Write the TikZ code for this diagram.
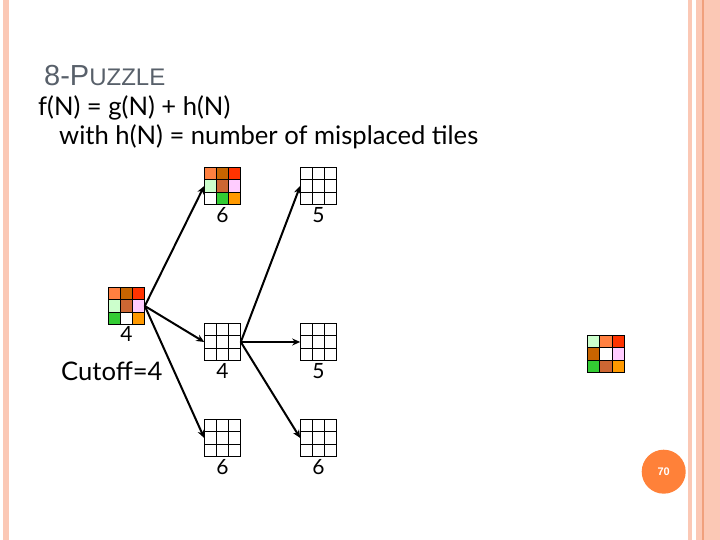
\documentclass[tikz,border=0pt]{standalone}
\usepackage{fontspec}
\setmainfont{Lato}
\newfontfamily\titlefont{Liberation Sans}
\usetikzlibrary{positioning,arrows.meta,calc}
\definecolor{pzstripe}{RGB}{251,200,181}
\definecolor{pzstripedark}{RGB}{240,160,125}
\definecolor{pzbadge}{RGB}{255,129,57}
\definecolor{pztitle}{RGB}{88,96,106}
\definecolor{pzorange}{RGB}{255,128,64}
\definecolor{pzbrown}{RGB}{200,100,0}
\definecolor{pzred}{RGB}{255,51,0}
\definecolor{pzmint}{RGB}{204,255,204}
\definecolor{pzrust}{RGB}{204,102,51}
\definecolor{pzpink}{RGB}{255,204,255}
\definecolor{pzgreen}{RGB}{51,204,51}
\definecolor{pzamber}{RGB}{255,153,0}
\tikzset{
  pzgrid/.style={draw=black, line width=0.9pt, minimum size=36.6pt, inner sep=0pt, outer sep=0pt},
  pzcell/.style={draw=black, line width=0.9pt},
  pzarr/.style={-{Stealth[length=8pt,width=7pt]}, line width=2pt, draw=black},
  pzcost/.style={font=\fontsize{21}{21}\selectfont, inner sep=0pt, text height=14.5pt, text depth=0pt},
  pztext/.style={font=\fontsize{25.6}{25.6}\selectfont, inner sep=0pt, anchor=base west},
  pzband/.style={fill=pzstripe, draw=none},
}
\newcommand{\pzcells}[2]{%
  \foreach \c [count=\i from 0] in {#2} {
    \pgfmathtruncatemacro{\cx}{mod(\i,3)}
    \pgfmathtruncatemacro{\cy}{int(\i/3)}
    \draw[pzcell, fill=\c] ($(#1.north west)+(\cx*12.2,-\cy*12.2)$) rectangle ++(12.2,-12.2);
  }
}
\begin{document}
\begin{tikzpicture}[x=1pt,y=1pt]
    \useasboundingbox (0,0) rectangle (720,540);
    % side bands
    \fill[pzband] (3,0) rectangle (9,540);
    \fill[pzband] (688,0) rectangle (692,540);
    \fill[pzband] (696,0) rectangle (720,540);
    \fill[pzstripedark] (702.4,0) rectangle (703.6,540);

    \node[pztext, text=pztitle] (title) at (44,454) {\titlefont\fontsize{29}{29}\selectfont 8-P\fontsize{24}{24}\selectfont UZZLE};
    \node[pztext] (formula) at (38,424) {f(N) = g(N) + h(N)};
    \node[pztext] (with) at (59,395) {with h(N) = number of misplaced tiles};

    % puzzle states
    \node[pzgrid] (root) at (126.5,234) {};
    \node[pzgrid] (up) at (222.5,354) {};
    \node[pzgrid] (mid) at (222.5,198) {};
    \node[pzgrid] (low) at (222.5,102) {};
    \node[pzgrid, right=59.4pt of up] (upr) {};
    \node[pzgrid, right=59.4pt of mid] (midr) {};
    \node[pzgrid, right=59.4pt of low] (lowr) {};
    \node[pzgrid] (goal) at (606,186) {};

    \pzcells{root}{pzorange,pzbrown,pzred,pzmint,pzrust,pzpink,pzgreen,white,pzamber}
    \pzcells{up}{pzorange,pzbrown,pzred,pzmint,pzrust,pzpink,white,pzgreen,pzamber}
    \pzcells{mid}{white,white,white,white,white,white,white,white,white}
    \pzcells{low}{white,white,white,white,white,white,white,white,white}
    \pzcells{upr}{white,white,white,white,white,white,white,white,white}
    \pzcells{midr}{white,white,white,white,white,white,white,white,white}
    \pzcells{lowr}{white,white,white,white,white,white,white,white,white}
    \pzcells{goal}{pzmint,pzorange,pzred,pzbrown,white,pzpink,pzgreen,pzrust,pzamber}

    \node[pzcost, below=3pt of root] (rootc) {4};
    \node[pzcost, below=4pt of up] (upc) {6};
    \node[pzcost, below=4pt of upr] (uprc) {5};
    \node[pzcost, below=4pt of mid] (midc) {4};
    \node[pzcost, below=4pt of midr] (midrc) {5};
    \node[pzcost, below=4pt of low] (lowc) {6};
    \node[pzcost, below=4pt of lowr] (lowrc) {6};
    \node[pztext] (cutoff) at (61,159) {Cutoff=4};

    \draw[pzarr] (root.east) -- (up.west);
    \draw[pzarr] (root.east) -- (mid.west);
    \draw[pzarr] (root.east) -- (low.west);
    \draw[pzarr] (mid.east) -- (upr.west);
    \draw[pzarr] (mid.east) -- (midr.west);
    \draw[pzarr] (mid.east) -- (lowr.west);

    \node[circle, fill=pzbadge, minimum size=44pt, inner sep=0pt, text=white, font=\titlefont\bfseries\fontsize{11}{11}\selectfont] (page) at (663.7,68.3) {70};
\end{tikzpicture}
\end{document}
